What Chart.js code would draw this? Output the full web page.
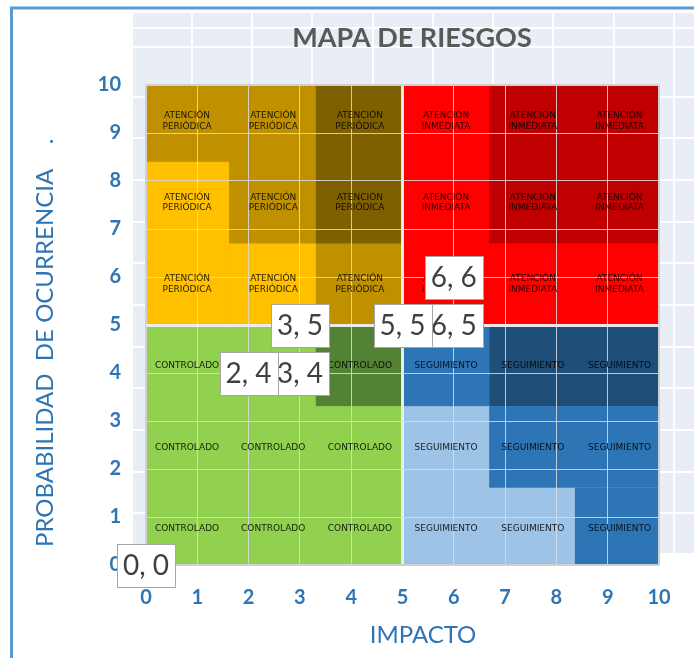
<!DOCTYPE html>
<html>
<head>
<meta charset="utf-8">
<script src="https://cdn.jsdelivr.net/npm/chart.js@4.4.1/dist/chart.umd.min.js"></script>
<style>
  html, body { margin: 0; padding: 0; background: #fff; }
  #wrap { width: 694px; height: 658px; position: relative; }
</style>
</head>
<body>
<div id="wrap"><canvas id="riskMap"></canvas></div>
<script>
// Risks plotted as (impacto, probabilidad)
const impacto = [6, 6, 5, 3, 3, 2, 0];
const probabilidad = [6, 5, 5, 5, 4, 4, 0];

// Axis ticks
const axisMin = 0;
const axisMax = 10;

// Texts
const chartTitle = "MAPA DE RIESGOS";
const xTitle = "IMPACTO";
const yTitle = "PROBABILIDAD  DE OCURRENCIA    .";
const quadrantTexts = {
    topLeft: ["ATENCIÓN", "PERIÓDICA"],
    topRight: ["ATENCIÓN", "INMEDIATA"],
    bottomLeft: ["CONTROLADO"],
    bottomRight: ["SEGUIMIENTO"]
};

// Coloured zones of the map (in axis units)
const zones = [
    { x: [0, 5], y: [5, 10], color: "#BF9000" },
    { x: [0, 1.62], y: [5, 8.4], color: "#FFC000" },
    { x: [1.62, 3.31], y: [5, 6.7], color: "#FFC000" },
    { x: [3.31, 5], y: [6.7, 10], color: "#7F6000" },
    { x: [5, 10], y: [5, 10], color: "#FF0000" },
    { x: [6.69, 10], y: [6.7, 10], color: "#C00000" },
    { x: [0, 5], y: [0, 5], color: "#92D050" },
    { x: [3.31, 5], y: [3.31, 5], color: "#548235" },
    { x: [5, 10], y: [0, 5], color: "#9DC3E6" },
    { x: [5, 6.69], y: [3.31, 5], color: "#2E75B6" },
    { x: [6.69, 10], y: [1.61, 3.31], color: "#2E75B6" },
    { x: [8.36, 10], y: [0, 1.61], color: "#2E75B6" },
    { x: [6.69, 10], y: [3.31, 5], color: "#1F4E79" }
];
const textCols = [0.8, 2.48, 4.17, 5.85, 7.54, 9.23];
const textRows = [0.75, 2.45, 4.15, 5.85, 7.55, 9.25];

const blue = "#2E75B6";

// Sheet-like background behind the plot
const sheetBackground = {
    id: "sheetBackground",
    beforeDraw(chart) {
        const ctx = chart.ctx;
        const { x, y } = chart.scales;
        ctx.save();
        ctx.fillStyle = "#fff";
        ctx.fillRect(0, 0, chart.width, chart.height);

        // outer frame
        ctx.strokeStyle = "#5B9BD5";
        ctx.lineWidth = 3;
        ctx.strokeRect(11.5, 8, 900, 900);

        // grey cell area
        ctx.fillStyle = "#E9EDF5";
        ctx.fillRect(133, 13, chart.width - 133, 540);
        ctx.strokeStyle = "#fff";
        ctx.lineWidth = 2;
        [192, 252, 312, 373, 433, 493, 553, 614, 674].forEach(px => {
            ctx.beginPath(); ctx.moveTo(px, 13); ctx.lineTo(px, 553); ctx.stroke();
        });
        [28, 47, 97, 138, 180, 222, 263, 305, 347, 388, 430, 472, 513].forEach(py => {
            ctx.beginPath(); ctx.moveTo(133, py); ctx.lineTo(chart.width, py); ctx.stroke();
        });

        // risk zones
        zones.forEach(z => {
            const x0 = x.getPixelForValue(z.x[0]);
            const x1 = x.getPixelForValue(z.x[1]);
            const y0 = y.getPixelForValue(z.y[1]);
            const y1 = y.getPixelForValue(z.y[0]);
            ctx.fillStyle = z.color;
            ctx.fillRect(x0, y0, x1 - x0, y1 - y0);
        });
        ctx.restore();
    },
    beforeDatasetsDraw(chart) {
        const ctx = chart.ctx;
        const { x, y } = chart.scales;
        ctx.save();
        ctx.font = "9px 'DejaVu Sans'";
        ctx.fillStyle = "rgba(0,0,0,0.85)";
        ctx.textAlign = "center";
        ctx.textBaseline = "middle";
        textRows.forEach(r => {
            textCols.forEach(c => {
                let lines;
                if (r > 5) lines = c < 5 ? quadrantTexts.topLeft : quadrantTexts.topRight;
                else lines = c < 5 ? quadrantTexts.bottomLeft : quadrantTexts.bottomRight;
                const px = x.getPixelForValue(c);
                const py = y.getPixelForValue(r);
                lines.forEach((t, i) => {
                    ctx.fillText(t, px, py + (i - (lines.length - 1) / 2) * 10.5);
                });
            });
        });
        ctx.restore();
    }
};

// Boxed "x, y" labels on each point
const pointLabels = {
    id: "pointLabels",
    afterDatasetsDraw(chart) {
        const ctx = chart.ctx;
        const meta = chart.getDatasetMeta(0);
        ctx.save();
        ctx.font = "28px Lato";
        ctx.textAlign = "center";
        ctx.textBaseline = "middle";
        meta.data.forEach((pt, i) => {
            const text = `${impacto[i]}, ${probabilidad[i]}`;
            const w = Math.round(ctx.measureText(text).width + 12);
            const h = 43;
            const left = Math.round(pt.x - w / 2) + 0.5;
            const top = Math.round(pt.y - h / 2) + 0.5;
            ctx.fillStyle = "#fff";
            ctx.fillRect(left, top, w, h);
            ctx.strokeStyle = "#A6A6A6";
            ctx.lineWidth = 1;
            ctx.strokeRect(left, top, w, h);
            ctx.fillStyle = "#404040";
            ctx.fillText(text, pt.x, pt.y + 1);
        });
        ctx.restore();
    },
    afterDraw(chart) {
        const ctx = chart.ctx;
        ctx.save();
        ctx.textBaseline = "alphabetic";
        ctx.textAlign = "center";

        ctx.fillStyle = "#595959";
        ctx.font = "bold 27px Lato";
        ctx.fillText(chartTitle, 412, 47);

        ctx.fillStyle = blue;
        ctx.font = "24px Lato";
        ctx.fillText(xTitle, 423, 643);

        ctx.translate(52.5, 547);
        ctx.rotate(-Math.PI / 2);
        ctx.textAlign = "left";
        ctx.font = "24px Lato";
        ctx.fillText(yTitle, 0, 0);
        ctx.restore();
    }
};

function gridColor(c) {
    const v = c.tick.value;
    if (v === 0 || v === 10) return "#D0D0D0";
    if (v === 5) return "rgba(240,240,240,0.95)";
    return "rgba(220,220,220,0.85)";
}
function gridWidth(c) {
    const v = c.tick.value;
    if (v === 5) return 3;
    if (v === 0 || v === 10) return 2;
    return 1;
}

new Chart(document.getElementById("riskMap"), {
    type: "scatter",
    data: {
        datasets: [{
            label: "Riesgos",
            data: impacto.map((v, i) => ({ x: v, y: probabilidad[i] })),
            pointRadius: 0,
            pointHoverRadius: 0,
            backgroundColor: "#fff"
        }]
    },
    options: {
        responsive: true,
        maintainAspectRatio: false,
        animation: false,
        layout: { padding: { top: 85, right: 35, left: 0, bottom: 0 } },
        plugins: {
            legend: { display: false },
            tooltip: { enabled: false }
        },
        scales: {
            x: {
                type: "linear",
                min: axisMin,
                max: axisMax,
                border: { display: false },
                grid: { color: gridColor, lineWidth: gridWidth, drawTicks: false },
                ticks: {
                    stepSize: 1,
                    padding: 21,
                    maxRotation: 0,
                    autoSkip: false,
                    color: blue,
                    font: { family: "Lato", size: 20, weight: "bold" }
                },
                afterFit: scale => { scale.height = 93; }
            },
            y: {
                type: "linear",
                min: axisMin,
                max: axisMax,
                border: { display: false },
                grid: { color: gridColor, lineWidth: gridWidth, drawTicks: false },
                ticks: {
                    stepSize: 1,
                    padding: 25,
                    autoSkip: false,
                    color: blue,
                    font: { family: "Lato", size: 20, weight: "bold" }
                },
                afterFit: scale => { scale.width = 146; }
            }
        }
    },
    plugins: [sheetBackground, pointLabels]
});
</script>
</body>
</html>
